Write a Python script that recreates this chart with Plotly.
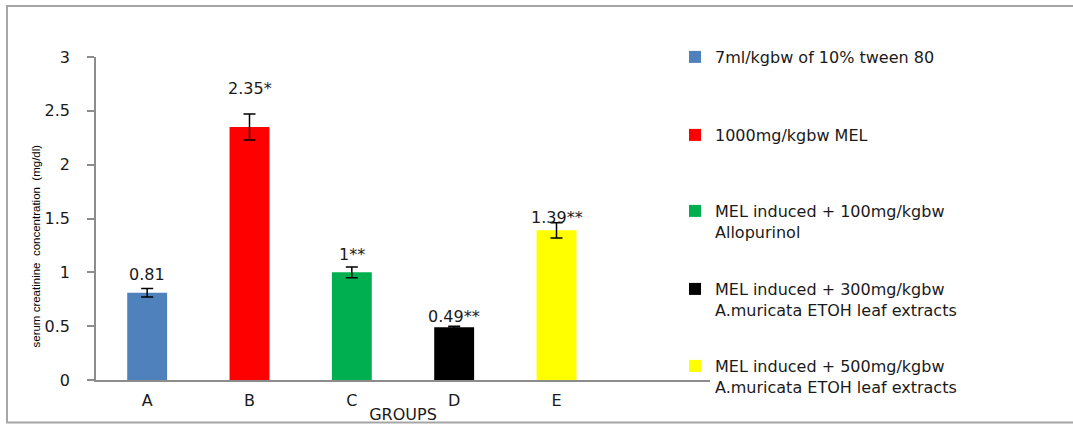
import plotly.graph_objects as go

groups = ["A", "B", "C", "D", "E"]
values = [0.81, 2.35, 1.00, 0.49, 1.39]
errors = [0.04, 0.12, 0.05, 0.01, 0.07]
labels = ["0.81", "2.35*", "1**", "0.49**", "1.39**"]
legend_names = [
    "7ml/kgbw of 10% tween 80",
    "1000mg/kgbw MEL",
    "MEL induced + 100mg/kgbw<br>Allopurinol",
    "MEL induced + 300mg/kgbw<br>A.muricata ETOH leaf extracts",
    "MEL induced + 500mg/kgbw<br>A.muricata ETOH leaf extracts",
]
colors = ["#4F81BD", "#FF0000", "#00B050", "#000000", "#FFFF00"]
label_shift = [18, 38, 18, 11, 13]
legend_first_line_px = [56, 134, 210, 288, 365]

W, H = 1073, 424
L, R, T, B = 96, W - 710, 57, H - 380
pw, ph = W - L - R, H - T - B

FONT = "DejaVu Sans"
fig = go.Figure()
for i, g in enumerate(groups):
    lg = "legend" if i == 0 else f"legend{i+1}"
    fig.add_trace(go.Bar(
        x=[i], y=[values[i]], width=0.39, name=legend_names[i],
        marker=dict(color=colors[i], line=dict(width=0)),
        error_y=dict(type="data", array=[errors[i]], color="black", thickness=1.5, width=6),
        legend=lg,
    ))
    fig.add_annotation(x=i, y=values[i], text=labels[i], showarrow=False,
                       yshift=label_shift[i], xanchor="center", yanchor="middle",
                       font=dict(family=FONT, size=16, color="#1a1a1a"))

legend_common = dict(
    xanchor="left", yanchor="top", bgcolor="rgba(0,0,0,0)",
    font=dict(family=FONT, size=16, color="#1a1a1a"), valign="top",
    itemclick=False, itemdoubleclick=False,
)
layout_legends = {}
for i in range(5):
    key = "legend" if i == 0 else f"legend{i+1}"
    top_px = legend_first_line_px[i] - 16
    layout_legends[key] = dict(x=(675 - L) / pw, y=(H - B - top_px) / ph, **legend_common)

fig.update_layout(
    width=W, height=H,
    margin=dict(l=L, r=R, t=T, b=B, pad=0, autoexpand=False),
    paper_bgcolor="white", plot_bgcolor="white",
    barmode="overlay", showlegend=True,
    xaxis=dict(
        range=[-0.5, 5.5], tickvals=list(range(len(groups))), ticktext=groups,
        showline=True, linecolor="#8c8c8c", linewidth=1.5, ticks="", showgrid=False,
        zeroline=False, tickfont=dict(family=FONT, size=16, color="#1a1a1a"),
        ticklabelstandoff=5,
        title=dict(text="GROUPS", font=dict(family=FONT, size=16, color="#1a1a1a"), standoff=4),
    ),
    yaxis=dict(
        range=[0, 3], dtick=0.5, showline=True, linecolor="#8c8c8c", linewidth=1.5,
        ticks="outside", ticklen=7, tickcolor="#8c8c8c", tickwidth=1.5, showgrid=False,
        zeroline=False, tickfont=dict(family=FONT, size=16, color="#1a1a1a"),
        ticklabelstandoff=14,
    ),
    **layout_legends,
)

fig.add_annotation(
    text="serum creatinine  concentration  (mg/dl)", textangle=-90, showarrow=False,
    xref="paper", yref="paper", x=(35 - L) / pw, y=(380 - 246.5) / ph,
    xanchor="center", yanchor="middle",
    font=dict(family="Liberation Sans Narrow, Liberation Sans", size=11.5, color="black"),
)

fig.add_shape(type="rect", xref="paper", yref="paper",
              x0=(7 - L) / pw, x1=(1090 - L) / pw,
              y0=(380 - 422.5) / ph, y1=(380 - 6) / ph,
              line=dict(color="#a6a6a6", width=2), fillcolor="rgba(0,0,0,0)", layer="below")

fig.write_html("out.html", config={"displayModeBar": False},
               post_script="document.body.style.margin='0px';document.body.style.overflow='hidden';")
